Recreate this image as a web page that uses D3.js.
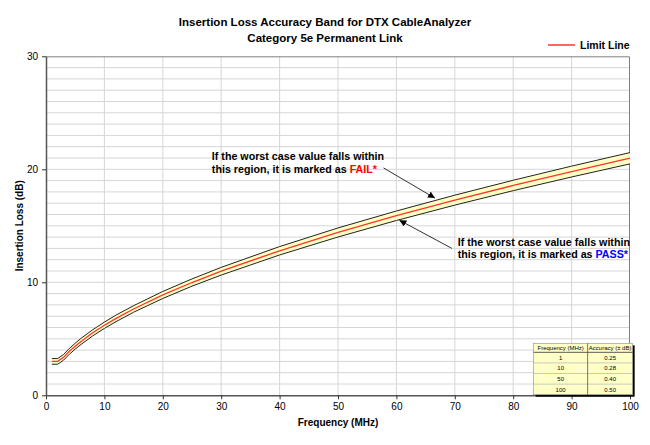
<!DOCTYPE html>
<html>
<head>
<meta charset="utf-8">
<script src="https://cdn.jsdelivr.net/npm/d3@7"></script>
<style>
body { margin: 0; background: #fff; }
text { font-family: "Liberation Sans", Arial, sans-serif; }
</style>
</head>
<body>
<div id="chart"></div>
<script>
// limit line (MHz -> dB)
var freq      = [1, 2, 3, 4, 5, 6, 8, 10, 12, 15, 20, 25, 30, 40, 50, 60, 70, 80, 90, 100];
var limitLoss = [3.00, 3.00, 3.36, 3.89, 4.35, 4.77, 5.53, 6.20, 6.81, 7.64, 8.88, 9.98, 10.98, 12.79, 14.41, 15.89, 17.27, 18.57, 19.80, 20.98];
// half width of the accuracy band at each frequency (dB)
var bandAcc   = [0.25, 0.25, 0.25, 0.26, 0.26, 0.27, 0.27, 0.28, 0.29, 0.29, 0.31, 0.32, 0.34, 0.37, 0.40, 0.42, 0.44, 0.46, 0.48, 0.50];

// accuracy table
var tableHead = ['Frequency (MHz)', 'Accuracy (\u00b1 dB)'];
var tableFreq = [1, 10, 50, 100];
var tableAcc  = [0.25, 0.28, 0.40, 0.50];

var xTicks = [0, 10, 20, 30, 40, 50, 60, 70, 80, 90, 100];
var yTicks = [0, 10, 20, 30];
var yMinor = [1, 2, 3, 4, 5, 6, 7, 8, 9, 11, 12, 13, 14, 15, 16, 17, 18, 19, 21, 22, 23, 24, 25, 26, 27, 28, 29];

var data = freq.map((f, i) => ({ freq: f, value: limitLoss[i], acc: bandAcc[i] }));

var margin = {top: 56.3, right: 20, bottom: 49.7, left: 46},
    width = 650 - margin.left - margin.right,
    height = 445 - margin.top - margin.bottom;

let x = d3.scaleLinear().domain([0, 100]).range([0, width]);
let y = d3.scaleLinear().domain([0, 30]).range([height, 0]);

var svg = d3.select('#chart')
    .append('svg')
    .attr('width', 650)
    .attr('height', 445);

svg.append('rect').attr('width', 650).attr('height', 445).attr('fill', '#fff');

// titles
svg.append('text')
    .attr('x', 325).attr('y', 26)
    .attr('text-anchor', 'middle')
    .style('font-size', '11.5px').style('font-weight', 'bold')
    .text('Insertion Loss Accuracy Band for DTX CableAnalyzer');
svg.append('text')
    .attr('x', 325).attr('y', 42)
    .attr('text-anchor', 'middle')
    .style('font-size', '11.5px').style('font-weight', 'bold')
    .text('Category 5e Permanent Link');

// legend
svg.append('line')
    .attr('x1', 548).attr('x2', 575).attr('y1', 45).attr('y2', 45)
    .attr('stroke', '#ff3333').attr('stroke-width', 1.5);
svg.append('text')
    .attr('x', 580).attr('y', 49)
    .style('font-size', '10.5px').style('font-weight', 'bold')
    .text('Limit Line');

var chart = svg.append('g')
    .attr('transform', 'translate(' + margin.left + ', ' + margin.top + ')');

// grid
chart.append('g').selectAll('line')
    .data(yMinor.concat([10, 20]))
    .join('line')
    .attr('x1', 0).attr('x2', width)
    .attr('y1', (d) => y(d)).attr('y2', (d) => y(d))
    .attr('stroke', '#d6d6d6');
chart.append('g').selectAll('line')
    .data(xTicks.slice(1, -1))
    .join('line')
    .attr('x1', (d) => x(d)).attr('x2', (d) => x(d))
    .attr('y1', 0).attr('y2', height)
    .attr('stroke', '#d6d6d6');

// plot border (top and right)
chart.append('path')
    .attr('d', 'M0,0.5H' + (width - 0.5) + 'V' + height)
    .attr('fill', 'none')
    .attr('stroke', '#808080');

// accuracy band
var band = d3.area()
    .x((d) => x(d.freq))
    .y0((d) => y(d.value - d.acc))
    .y1((d) => y(d.value + d.acc));
var upper = d3.line().x((d) => x(d.freq)).y((d) => y(d.value + d.acc));
var lower = d3.line().x((d) => x(d.freq)).y((d) => y(d.value - d.acc));
var valueLine = d3.line().x((d) => x(d.freq)).y((d) => y(d.value));

chart.append('path').datum(data).attr('d', band).attr('fill', '#ffffc4');
chart.append('path').datum(data).attr('d', upper).attr('fill', 'none').attr('stroke', '#222').attr('stroke-width', 1);
chart.append('path').datum(data).attr('d', lower).attr('fill', 'none').attr('stroke', '#222').attr('stroke-width', 1);
chart.append('path').datum(data).attr('d', valueLine).attr('fill', 'none').attr('stroke', '#ff3333').attr('stroke-width', 1.3);

// axes
let xAxis = d3.axisBottom(x).tickValues(xTicks).tickSize(4).tickSizeOuter(0).tickPadding(4);
let yAxis = d3.axisLeft(y).tickValues(yTicks).tickSize(4).tickSizeOuter(0).tickPadding(4);

chart.append('g')
    .attr('class', 'x axis')
    .attr('transform', 'translate(0,' + height + ')')
    .call(xAxis);
chart.append('g')
    .attr('class', 'y axis')
    .call(yAxis);

chart.selectAll('.axis .domain').attr('stroke', '#555').attr('stroke-width', 1.5);
chart.selectAll('.axis .tick line').attr('stroke', '#333');
chart.selectAll('.axis text')
    .style('font-family', '"Liberation Sans", Arial, sans-serif')
    .style('font-size', '10px')
    .attr('fill', '#000');

svg.append('text')
    .attr('x', margin.left + width / 2).attr('y', 426)
    .attr('text-anchor', 'middle')
    .style('font-size', '10px').style('font-weight', 'bold')
    .text('Frequency (MHz)');
svg.append('text')
    .attr('transform', 'translate(23,' + (margin.top + height / 2) + ') rotate(-90)')
    .attr('text-anchor', 'middle')
    .style('font-size', '10px').style('font-weight', 'bold')
    .text('Insertion Loss (dB)');

// annotations
svg.append('defs').append('marker')
    .attr('id', 'arrow')
    .attr('viewBox', '0 0 10 10')
    .attr('refX', 10).attr('refY', 5)
    .attr('markerWidth', 7).attr('markerHeight', 7)
    .attr('markerUnits', 'userSpaceOnUse')
    .attr('orient', 'auto')
    .append('path').attr('d', 'M0,0L10,5L0,10z').attr('fill', '#000');

function note(fx, fy, line1, pre, word, color, tail, tip) {
    let t = chart.append('text')
        .attr('x', x(fx)).attr('y', y(fy))
        .style('font-size', '10.7px').style('font-weight', 'bold');
    t.append('tspan').text(line1);
    let t2 = t.append('tspan').attr('x', x(fx)).attr('dy', 12.7).text(pre);
    t.append('tspan').attr('fill', color).text(word);
    chart.append('line')
        .attr('x1', x(tail[0])).attr('y1', y(tail[1]))
        .attr('x2', x(tip[0])).attr('y2', y(tip[1]))
        .attr('stroke', '#333').attr('stroke-width', 1)
        .attr('marker-end', 'url(#arrow)');
}

note(28.4, 20.83, 'If the worst case value falls within', 'this region, it is marked as ', 'FAIL*', '#ff0000',
     [57.8, 20.12], [66.6, 17.45]);
note(70.5, 13.25, 'If the worst case value falls within', 'this region, it is marked as ', 'PASS*', '#0000ff',
     [69.5, 13.0], [60.5, 15.5]);

// accuracy table
var tX = x(83.5), tY = y(4.6), colW = [54, 45], headH = 9, rowH = 10.6;
var table = chart.append('g').attr('transform', 'translate(' + tX + ',' + tY + ')');
var tW = colW[0] + colW[1], tH = headH + rowH * tableFreq.length;

table.append('rect').attr('x', 2).attr('y', 2).attr('width', tW).attr('height', tH).attr('fill', '#000');
table.append('rect').attr('width', tW).attr('height', tH).attr('fill', '#ffffc8').attr('stroke', '#999').attr('stroke-width', 0.7);
table.selectAll('line.row')
    .data(tableFreq)
    .join('line')
    .attr('class', 'row')
    .attr('x1', 0).attr('x2', tW)
    .attr('y1', (d, i) => headH + rowH * i).attr('y2', (d, i) => headH + rowH * i)
    .attr('stroke', (d, i) => i == 0 ? '#333' : '#bbb').attr('stroke-width', 0.8);
table.append('line')
    .attr('x1', colW[0]).attr('x2', colW[0]).attr('y1', 0).attr('y2', tH)
    .attr('stroke', '#555').attr('stroke-width', 0.8);

table.selectAll('text.head')
    .data(tableHead)
    .join('text')
    .attr('class', 'head')
    .attr('x', (d, i) => i == 0 ? colW[0] / 2 : colW[0] + colW[1] / 2)
    .attr('y', headH - 2.3)
    .attr('text-anchor', 'middle')
    .style('font-size', '6px')
    .text((d) => d);
table.selectAll('text.freq')
    .data(tableFreq)
    .join('text')
    .attr('class', 'freq')
    .attr('x', colW[0] / 2)
    .attr('y', (d, i) => headH + rowH * i + 7.5)
    .attr('text-anchor', 'middle')
    .style('font-size', '6px')
    .text((d) => d);
table.selectAll('text.acc')
    .data(tableAcc)
    .join('text')
    .attr('class', 'acc')
    .attr('x', colW[0] + colW[1] / 2)
    .attr('y', (d, i) => headH + rowH * i + 7.5)
    .attr('text-anchor', 'middle')
    .style('font-size', '6px')
    .text((d) => d.toFixed(2));
</script>
</body>
</html>
